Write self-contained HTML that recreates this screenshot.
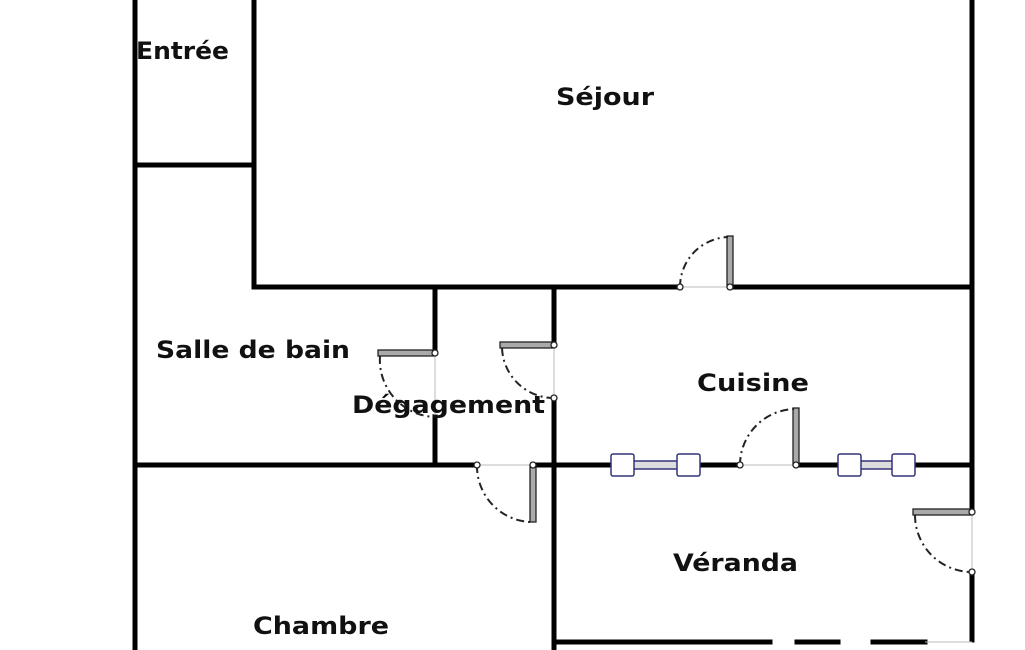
<!DOCTYPE html>
<html><head><meta charset="utf-8"><style>
html,body{margin:0;padding:0;background:#fff;width:1025px;height:650px;overflow:hidden}
svg{display:block}
text{font-family:"DejaVu Sans","Liberation Sans",sans-serif;font-weight:bold;font-size:24px;fill:#111}
</style></head><body>
<svg width="1025" height="650" viewBox="0 0 1025 650" xmlns="http://www.w3.org/2000/svg">
<g stroke="#000" stroke-width="5" fill="none" stroke-linecap="square">
<line x1="135" y1="0" x2="135" y2="650"/>
<line x1="254" y1="0" x2="254" y2="287"/>
<line x1="135" y1="165" x2="254" y2="165"/>
<line x1="972" y1="0" x2="972" y2="512"/>
<line x1="972" y1="572" x2="972" y2="640"/>
<line x1="254" y1="287" x2="680" y2="287"/>
<line x1="730" y1="287" x2="972" y2="287"/>
<line x1="435" y1="287" x2="435" y2="353"/>
<line x1="435" y1="417" x2="435" y2="465"/>
<line x1="554" y1="287" x2="554" y2="345"/>
<line x1="554" y1="398" x2="554" y2="650"/>
<line x1="135" y1="465" x2="477" y2="465"/>
<line x1="533" y1="465" x2="740" y2="465"/>
<line x1="796" y1="465" x2="972" y2="465"/>
<line x1="555" y1="642" x2="770" y2="642"/>
<line x1="797" y1="642" x2="838" y2="642"/>
<line x1="873" y1="642" x2="925" y2="642"/>
</g>
<g stroke="#bbb" stroke-width="1">
<line x1="680" y1="287" x2="730" y2="287"/>
<line x1="435" y1="353" x2="435" y2="417"/>
<line x1="554" y1="345" x2="554" y2="398"/>
<line x1="477" y1="465" x2="533" y2="465"/>
<line x1="740" y1="465" x2="796" y2="465"/>
<line x1="972" y1="512" x2="972" y2="572"/>
<line x1="925" y1="642" x2="972" y2="642"/>
</g>
<!-- windows -->
<g stroke="#33337a" stroke-width="1.5" fill="#fff">
<rect x="622" y="461" width="66" height="8" fill="#ddd"/>
<rect x="611" y="454" width="23" height="22" rx="2"/>
<rect x="677" y="454" width="23" height="22" rx="2"/>
<rect x="849" y="461" width="55" height="8" fill="#ddd"/>
<rect x="838" y="454" width="23" height="22" rx="2"/>
<rect x="892" y="454" width="23" height="22" rx="2"/>
</g>
<!-- door leaves -->
<g fill="#aaa" stroke="#222" stroke-width="1.3">
<rect x="727" y="236" width="6" height="51"/>
<rect x="378" y="350" width="57" height="6"/>
<rect x="500" y="342" width="54" height="6"/>
<rect x="530" y="465" width="6" height="57"/>
<rect x="793" y="408" width="6" height="57"/>
<rect x="913" y="509" width="59" height="6"/>
</g>
<!-- arcs -->
<g stroke="#222" stroke-width="2" fill="none" stroke-dasharray="8 4 2 4">
<path d="M680 287 A50 50 0 0 1 728 237"/>
<path d="M380 356 A57 57 0 0 0 435 417"/>
<path d="M502 348 A52 52 0 0 0 554 398"/>
<path d="M477 465 A56 56 0 0 0 530 522"/>
<path d="M740 465 A56 56 0 0 1 795 409"/>
<path d="M915 515 A57 57 0 0 0 972 572"/>
</g>
<g fill="#fff" stroke="#222" stroke-width="1.3">
<circle cx="680" cy="287" r="3"/><circle cx="730" cy="287" r="3"/>
<circle cx="435" cy="353" r="3"/><circle cx="554" cy="345" r="3"/>
<circle cx="554" cy="398" r="3"/><circle cx="477" cy="465" r="3"/>
<circle cx="533" cy="465" r="3"/><circle cx="740" cy="465" r="3"/>
<circle cx="796" cy="465" r="3"/><circle cx="972" cy="512" r="3"/>
<circle cx="972" cy="572" r="3"/>
</g>
<text x="136" y="59" textLength="93" lengthAdjust="spacingAndGlyphs">Entrée</text>
<text x="556" y="105" textLength="98" lengthAdjust="spacingAndGlyphs">Séjour</text>
<text x="156" y="358" textLength="194" lengthAdjust="spacingAndGlyphs">Salle de bain</text>
<text x="352" y="413" textLength="193" lengthAdjust="spacingAndGlyphs">Dégagement</text>
<text x="697" y="391" textLength="112" lengthAdjust="spacingAndGlyphs">Cuisine</text>
<text x="673" y="571" textLength="125" lengthAdjust="spacingAndGlyphs">Véranda</text>
<text x="253" y="634" textLength="136" lengthAdjust="spacingAndGlyphs">Chambre</text>
</svg>
</body></html>
